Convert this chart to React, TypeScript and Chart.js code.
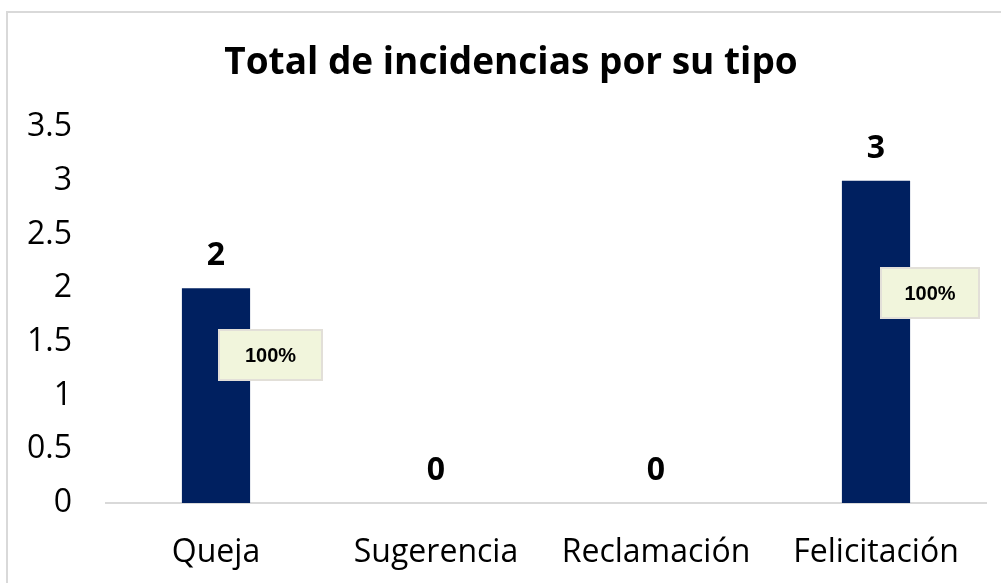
import React, { useEffect, useRef } from "react";
import { Chart, registerables } from "chart.js";

Chart.register(...registerables);

const categories = ["Queja", "Sugerencia", "Reclamación", "Felicitación"];
const values = [2, 0, 0, 3];
const percentLabels = ["100%", "", "", "100%"];
const yTicks = [0, 0.5, 1, 1.5, 2, 2.5, 3, 3.5];
const titleText = "Total de incidencias por su tipo";

const FONT = "'Open Sans', sans-serif";
// label box placement (pixel layout, not data)
const boxCenterY = [355, 0, 0, 293];
const boxOffsetX = [3, 0, 0, 5];
const boxWidth = [103, 0, 0, 98];

export default function App() {
  const ref = useRef<HTMLCanvasElement>(null);
  useEffect(() => {
    document.body.style.margin = "0";
    const canvas = ref.current!;
    const labelPlugin = {
      id: "labels",
      afterDatasetsDraw(chart: any) {
        const ctx = chart.ctx;
        ctx.save();
        ctx.fillStyle = "#000";
        ctx.font = `bold 37px ${FONT}`;
        ctx.textAlign = "center";
        ctx.textBaseline = "middle";
        ctx.fillText(titleText, 511, 63);
        const meta = chart.getDatasetMeta(0);
        meta.data.forEach((bar: any, i: number) => {
          ctx.font = `bold 32px ${FONT}`;
          ctx.fillStyle = "#000";
          ctx.textAlign = "center";
          ctx.textBaseline = "middle";
          ctx.fillText(String(values[i]), bar.x, bar.y - 32);
          if (percentLabels[i]) {
            const w = boxWidth[i];
            const h = 50;
            const yc = boxCenterY[i];
            const bx = bar.x + boxOffsetX[i];
            const by = yc - h / 2;
            ctx.fillStyle = "#F1F5DC";
            ctx.fillRect(bx, by, w, h);
            ctx.strokeStyle = "#E2DFD8";
            ctx.lineWidth = 2;
            ctx.strokeRect(bx, by, w, h);
            ctx.fillStyle = "#000";
            ctx.font = `bold 20px 'Liberation Sans', Arial, sans-serif`;
            ctx.fillText(percentLabels[i], bx + w / 2, yc + 1);
          }
        });
        ctx.restore();
      },
    };
    const chart = new Chart(canvas, {
      type: "bar",
      data: {
        labels: categories,
        datasets: [
          {
            data: values,
            backgroundColor: "#002060",
            barPercentage: 0.62,
            categoryPercentage: 0.5,
          },
        ],
      },
      options: {
        animation: false,
        responsive: false,
        maintainAspectRatio: false,
        layout: { padding: { top: 127, right: 15, left: 0, bottom: 0 } },
        plugins: {
          legend: { display: false },
          title: { display: false },
          tooltip: { enabled: false },
        },
        scales: {
          x: {
            grid: { display: false, drawTicks: false },
            border: { display: true, color: "#D9D9D9", width: 2 },
            ticks: {
              color: "#000",
              font: { family: FONT, size: 32 },
              padding: 31,
            },
            afterFit(scale: any) {
              scale.height = 80;
            },
          },
          y: {
            min: 0,
            max: 3.5,
            afterBuildTicks(scale: any) {
              scale.ticks = yTicks.map((v) => ({ value: v }));
            },
            grid: { display: false, drawTicks: false },
            border: { display: false },
            ticks: {
              color: "#000",
              font: { family: FONT, size: 32 },
              padding: 34,
              callback: (v: any) => String(v),
            },
            afterFit(scale: any) {
              scale.width = 106;
            },
          },
        },
      },
      plugins: [labelPlugin],
    });
    return () => chart.destroy();
  }, []);
  return (
    <div style={{ position: "relative", width: 1001, height: 583, background: "#fff", overflow: "hidden" }}>
      <div
        style={{
          position: "absolute",
          left: 6,
          top: 11,
          width: 1010,
          height: 600,
          border: "2px solid #D9D9D9",
          boxSizing: "border-box",
        }}
      />
      <canvas ref={ref} width={1001} height={583} style={{ position: "absolute", left: 0, top: 0 }} />
    </div>
  );
}
